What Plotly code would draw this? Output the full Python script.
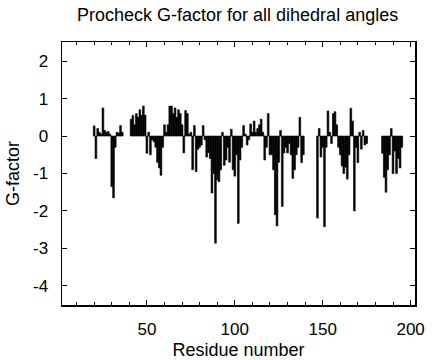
import plotly.graph_objects as go

# Residue numbers and G-factor values;
# None marks residues with no value drawn
residues = list(range(20, 196))
gfactor = [
    0.27, -0.6, 0.2, 0.1, 0.05, 0.75, 0.15, 0.1, 0.12, 0.05,      # 20-29
    -1.35, -1.65, -0.3, 0.1, 0.08, 0.28, 0.1, None, None, None,   # 30-39
    None, 0.45, 0.55, 0.3, 0.6, 0.5, 0.7, 0.55, 0.8, 0.56,        # 40-49
    -0.46, 0.1, -0.5, -0.1, -0.15, -0.3, -0.7, -0.85, -1.05, -0.3,  # 50-59
    0.3, 0.1, 0.3, 0.8, 0.8, 0.6, 0.75, 0.5, 0.7, 0.6,            # 60-69
    0.3, -0.45, 0.68, 0.6, 0.05, 0.1, -0.9, 0.28, -0.95, -0.35,   # 70-79
    -0.3, -0.24, 0.28, -0.1, -0.56, -0.44, -0.6, -1.52, -1.0, -2.86,  # 80-89
    -1.17, -1.22, -0.9, 0.1, -0.78, -0.64, -0.3, -0.7, 0.18, -0.9,    # 90-99
    -1.07, -0.5, -2.33, -0.64, -0.3, 0.28, 0.05, -0.24, -0.1, 0.32,   # 100-109
    0.1, 0.4, 0.1, 0.2, 0.3, 0.45, 0.1, -0.64, -0.3, 0.6,             # 110-119
    -0.5, -0.5, -0.9, -2.1, -2.4, -0.7, 0.15, -1.88, -0.45, -0.3,     # 120-129
    -0.45, -0.2, -0.5, -1.13, -0.9, -0.5, -0.3, 0.5, -0.71, -0.5,     # 130-139
    None, None, None, None, None, None, None, -2.19, 0.2, -0.56,      # 140-149
    -0.3, -2.42, -0.3, 0.67, 0.1, -0.2, 0.6, 0.65, 0.3, -0.3,         # 150-159
    -0.5, -0.8, -1.0, -0.83, -1.15, -0.5, 0.74, 0.4, -2.0, -0.3,      # 160-169
    -0.71, 0.1, -0.35, 0.15, -0.24, -0.2, None, None, None, None,     # 170-179
    None, None, None, None, -0.46, -1.1, -1.5, -0.9, -0.5, 0.2,       # 180-189
    -1.0, -0.4, -1.0, -0.6, -0.85, -0.3,                              # 190-195
]

x_ticks = [50, 100, 150, 200]
y_ticks = [2, 1, 0, -1, -2, -3, -4]
y_tick_labels = ["2", "1", "0", "-1", "-2", "-3", "-4"]

FONT = "Liberation Sans, Arial, Helvetica, sans-serif"

fig = go.Figure(
    go.Bar(
        x=residues,
        y=gfactor,
        marker=dict(color="black", line=dict(width=0.6, color="black")),
        width=1.0,
        hoverinfo="skip",
    )
)

fig.update_layout(
    width=432,
    height=360,
    margin=dict(l=62, r=17, t=42, b=55),
    plot_bgcolor="white",
    paper_bgcolor="white",
    showlegend=False,
    bargap=0,
    font=dict(family=FONT, size=17, color="black"),
    title=dict(
        text="Procheck G-factor for all dihedral angles",
        x=0.55,
        xanchor="center",
        y=1 - 15 / 360,
        yanchor="middle",
        font=dict(family=FONT, size=18, color="black"),
    ),
)

fig.update_xaxes(
    range=[1.7, 202.5],
    tickvals=x_ticks,
    ticks="inside",
    ticklen=5,
    tickwidth=1,
    tickcolor="black",
    minor=dict(dtick=10, tick0=0, ticks="inside", ticklen=3, tickcolor="black", tickwidth=1),
    showline=True,
    linecolor="black",
    linewidth=1.5,
    mirror="allticks",
    showgrid=False,
    zeroline=False,
    automargin=False,
    ticklabelstandoff=8,
    tickfont=dict(size=17),
    title=dict(text="Residue number", font=dict(size=18), standoff=6),
)

fig.update_yaxes(
    range=[-4.51, 2.51],
    tickvals=y_ticks,
    ticktext=y_tick_labels,
    ticks="inside",
    ticklen=5,
    tickwidth=1,
    tickcolor="black",
    showline=True,
    linecolor="black",
    linewidth=1.5,
    mirror="allticks",
    showgrid=False,
    zeroline=False,
    automargin=False,
    ticklabelstandoff=9,
    tickfont=dict(size=17),
    title=dict(text="G-factor", font=dict(size=18), standoff=8),
)

fig.write_html(
    "out.html",
    config={"displayModeBar": False, "staticPlot": True},
    post_script="document.body.style.margin='0';",
)
